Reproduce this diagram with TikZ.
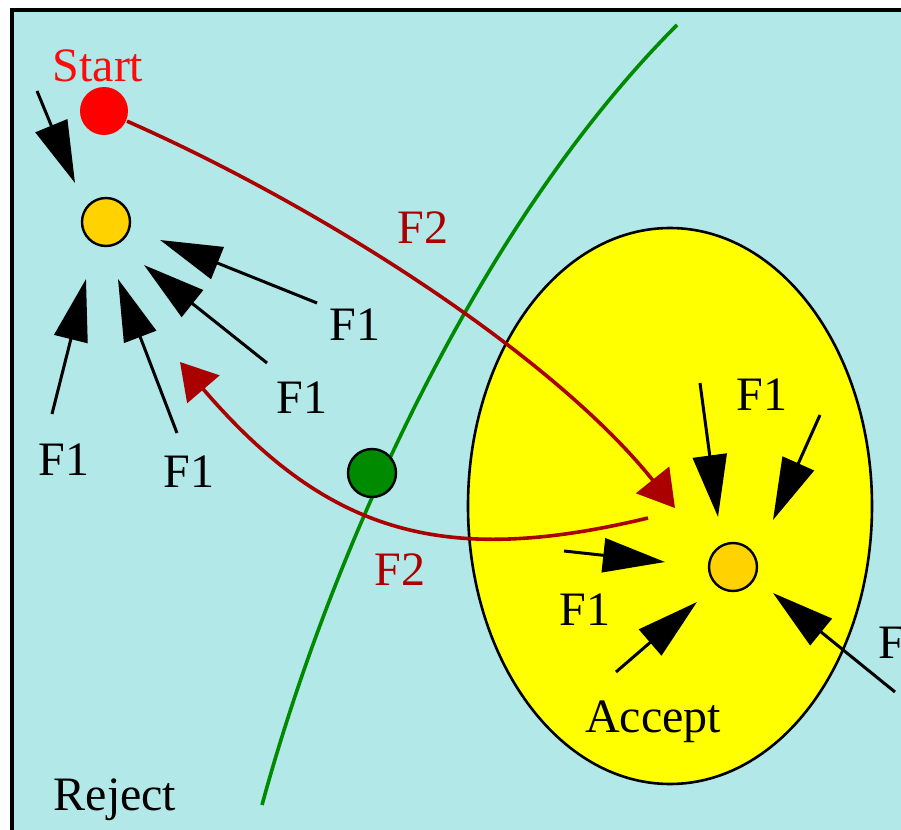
\documentclass[tikz,border=0pt]{standalone}
\usepackage{fontspec}
\setmainfont{Liberation Serif}
\usetikzlibrary{arrows.meta}
\definecolor{fundo}{RGB}{178,232,232}
\definecolor{vermelho}{RGB}{255,10,10}
\definecolor{vinho}{RGB}{170,0,0}
\definecolor{verde}{RGB}{0,138,0}
\definecolor{ouro}{RGB}{255,210,0}
\definecolor{amarelo}{RGB}{255,255,0}
\tikzset{
    seta/.style={draw=black, line width=1.5pt, -{Triangle[length=31pt,width=17pt]}},
    salto/.style={draw=vinho, line width=1.8pt, -{Triangle[length=18pt,width=21pt]}},
    ponto/.style={circle, draw=black, line width=1.2pt, minimum size=24pt, inner sep=0pt},
    rotulo/.style={font=\fontsize{24}{28}\selectfont, inner sep=0pt, anchor=base}
}

\begin{document}
\begin{tikzpicture}[x=0.5pt, y=-0.5pt]
    \useasboundingbox (0,0) rectangle (901,830);
    \clip (0,0) rectangle (901,830);
    \fill[white] (0,0) rectangle (901,830);
    \draw[fill=fundo, line width=1.8pt] (12,10) rectangle (940,870);
    % fronteira
    \draw[verde, line width=1.8pt] (262,805) .. controls (330,555) and (477,225) .. (677,25);
    % regiao de aceitacao
    \draw[fill=amarelo, line width=1.3pt] (670,506) ellipse [x radius=101pt, y radius=139pt];

    \node[ponto, fill=red, draw=none] (inicio) at (104,111) {};
    \node[ponto, fill=ouro] (estado) at (106,222) {};
    \node[ponto, fill=ouro] (alvo) at (733,567) {};
    \node[ponto, fill=verde] (limiar) at (372,473) {};

    % saltos F2
    \coordinate (pa) at (675,508);
    \coordinate (pb) at (648,518);
    \coordinate (pc) at (180,362);
    \draw[salto] (inicio) .. controls (328,210) and (555,358) .. (pa);
    \draw[salto] (pb) .. controls (448,566) and (330,537) .. (pc);

    % passos F1 em volta do estado
    \coordinate (t1) at (37,91);   \coordinate (h1) at (75,183);
    \coordinate (t2) at (317,303); \coordinate (h2) at (160,240);
    \coordinate (t3) at (267,363); \coordinate (h3) at (144,265);
    \coordinate (t4) at (177,433); \coordinate (h4) at (118,279);
    \coordinate (t5) at (52,414);  \coordinate (h5) at (86,279);
    \draw[seta] (t1) -- (h1);
    \draw[seta] (t2) -- (h2);
    \draw[seta] (t3) -- (h3);
    \draw[seta] (t4) -- (h4);
    \draw[seta] (t5) -- (h5);

    % passos F1 em volta do alvo
    \coordinate (t6) at (700,383);  \coordinate (h6) at (718,517);
    \coordinate (t7) at (820,415);  \coordinate (h7) at (773,520);
    \coordinate (t8) at (564,551);  \coordinate (h8) at (665,562);
    \coordinate (t9) at (616,672);  \coordinate (h9) at (697,602);
    \coordinate (t10) at (895,692); \coordinate (h10) at (773,593);
    \draw[seta] (t6) -- (h6);
    \draw[seta] (t7) -- (h7);
    \draw[seta] (t8) -- (h8);
    \draw[seta] (t9) -- (h9);
    \draw[seta] (t10) -- (h10);

    % rotulos
    \node[rotulo, text=vermelho] (rinicio) at (98,82) {Start};
    \node[rotulo, text=vinho] (rf2a) at (423,243) {F2};
    \node[rotulo, text=vinho] (rf2b) at (400,585) {F2};
    \node[rotulo] (r1) at (355,340) {F1};
    \node[rotulo] (r2) at (302,413) {F1};
    \node[rotulo] (r3) at (64,475) {F1};
    \node[rotulo] (r4) at (189,487) {F1};
    \node[rotulo] (r5) at (762,410) {F1};
    \node[rotulo] (r6) at (585,625) {F1};
    \node[rotulo, anchor=base west] (r7) at (878,658) {F1};
    \node[rotulo] (raceita) at (653,732) {Accept};
    \node[rotulo] (rrejeita) at (115,810) {Reject};
\end{tikzpicture}
\end{document}
